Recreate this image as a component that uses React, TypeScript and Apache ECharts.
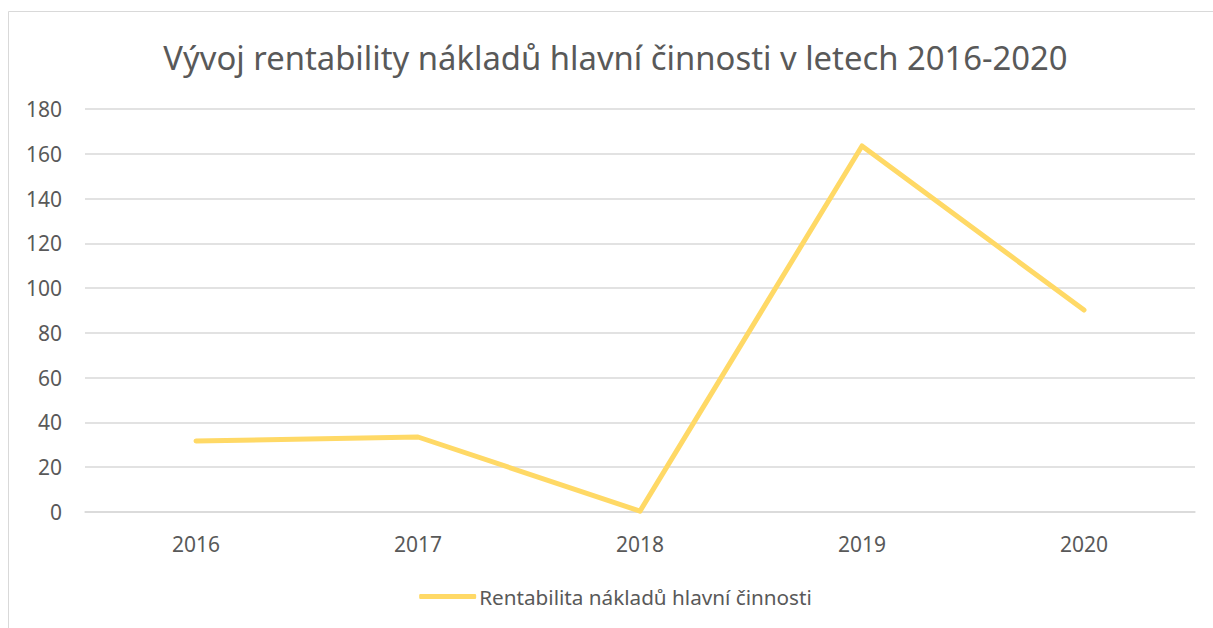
import React, { useEffect, useRef } from "react";
import * as echarts from "echarts";

const titleText = "Vývoj rentability nákladů hlavní činnosti v letech 2016-2020";
const seriesName = "Rentabilita nákladů hlavní činnosti";
const years = ["2016", "2017", "2018", "2019", "2020"];
const values = [31.7, 33.5, 0.4, 163.5, 90.2];

export default function App() {
  const ref = useRef<HTMLDivElement>(null);
  useEffect(() => {
    if (!ref.current) return;
    const chart = echarts.init(ref.current, null, { renderer: "svg" });
    const font = "'Noto Sans', sans-serif";
    chart.setOption({
      animation: false,
      backgroundColor: "#ffffff",
      textStyle: { fontFamily: font },
      title: {
        text: titleText,
        left: "center",
        top: 36,
        textStyle: { fontFamily: font, fontSize: 32.8, fontWeight: "normal", color: "#595959" },
      },
      graphic: [
        {
          type: "rect",
          shape: { x: 8.5, y: 11.5, width: 1400, height: 800 },
          style: { fill: "none", stroke: "#d9d9d9", lineWidth: 1 },
          silent: true,
        },
      ],
      legend: {
        bottom: 16,
        left: "center",
        itemWidth: 57,
        itemHeight: 5,
        itemGap: 4,
        icon: "roundRect",
        textStyle: { fontFamily: font, fontSize: 20.7, color: "#595959", padding: [0, 0, 0, -2] },
        data: [{ name: seriesName, itemStyle: { color: "#ffd966" } }],
      },
      grid: { left: 85, right: 36, top: 109, bottom: 116, containLabel: false },
      xAxis: {
        type: "category",
        data: years,
        boundaryGap: true,
        axisLine: { show: true, lineStyle: { color: "#d9d9d9", width: 1.5 } },
        axisTick: { show: false },
        axisLabel: { fontFamily: font, fontSize: 21, color: "#595959", margin: 21 },
      },
      yAxis: {
        type: "value",
        min: 0,
        max: 180,
        interval: 20,
        axisLine: { show: false },
        axisTick: { show: false },
        axisLabel: { fontFamily: font, fontSize: 21, color: "#595959", margin: 23 },
        splitLine: { lineStyle: { color: "#d9d9d9", width: 1.5 } },
      },
      series: [
        {
          name: seriesName,
          type: "line",
          data: values,
          symbol: "none",
          lineStyle: { color: "#ffd966", width: 5, cap: "round", join: "round" },
          itemStyle: { color: "#ffd966" },
        },
      ],
    });
    return () => chart.dispose();
  }, []);
  return (
    <div
      ref={ref}
      style={{ position: "fixed", left: 0, top: 0, width: 1231, height: 628 }}
    />
  );
}
